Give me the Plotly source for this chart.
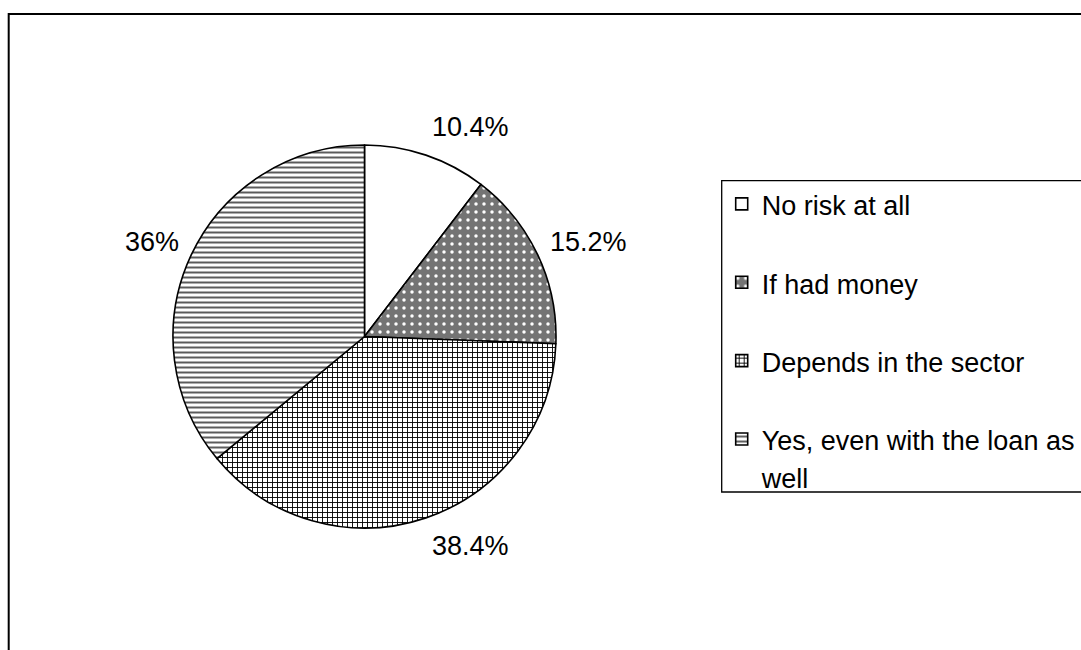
import math
import plotly.graph_objects as go

# ---- data ----
categories = ["No risk at all", "If had money", "Depends in the sector",
              "Yes, even with the loan as well"]
values = [10.4, 15.2, 38.4, 36.0]
value_labels = ["10.4%", "15.2%", "38.4%", "36%"]
legend_lines = [["No risk at all"], ["If had money"], ["Depends in the sector"],
                ["Yes, even with the loan as", "well"]]

# ---- layout constants ----
W, H = 1081, 650
CX, CY, R = 364.5, 336.5, 191.5   # pie centre / radius in px
LABEL_RX, LABEL_RY = 203, 221     # label offsets from centre
FONT = "Arial, 'Liberation Sans', sans-serif"
TXT = 27


def legend_text(lines):
    parts = ['<span style="font-size:%dpx">%s</span>' % (TXT, s) for s in lines]
    if len(parts) == 1:
        parts.append(" ")
    return "<br>".join(parts)


fig = go.Figure()
fig.add_trace(go.Pie(
    labels=[legend_text(l) for l in legend_lines],
    values=values,
    sort=False,
    direction="clockwise",
    rotation=0,
    textinfo="none",
    hoverinfo="skip",
    domain=dict(x=[(CX - R) / W, (CX + R) / W],
                y=[(H - CY - R) / H, (H - CY + R) / H]),
    marker=dict(
        colors=["white", "#747474", "white", "white"],
        line=dict(color="black", width=1.6),
        pattern=dict(
            shape=["", ".", "+", "-"],
            fgcolor=["white", "white", "black", "#5c5c5c"],
            bgcolor=["white", "#747474", "white", "white"],
            size=[8, 8, 5, 5],
            solidity=[0.1, 0.15, 0.33, 0.4],
            fillmode="replace",
        ),
    ),
))

# percentage labels placed outside each slice
total = sum(values)
annotations = []
cum = 0.0
for v, lab in zip(values, value_labels):
    mid = (cum + v / 2) / total * 2 * math.pi
    cum += v
    s, c = math.sin(mid), math.cos(mid)
    xp = CX + LABEL_RX * s
    yp = CY - LABEL_RY * c
    annotations.append(dict(
        x=xp / W, y=1 - yp / H, xref="paper", yref="paper",
        text=lab, showarrow=False,
        xanchor="left" if s > 0 else "right",
        yanchor="middle",
        font=dict(family=FONT, size=TXT, color="black"),
    ))

shapes = [
    # outer chart frame
    dict(type="rect", xref="paper", yref="paper",
         x0=8.7 / W, x1=1.05, y0=-0.05, y1=1 - 14 / H,
         line=dict(color="black", width=2), fillcolor="rgba(0,0,0,0)"),
    # legend frame
    dict(type="rect", xref="paper", yref="paper",
         x0=721.7 / W, x1=1.05, y0=1 - 492 / H, y1=1 - 180.7 / H,
         line=dict(color="black", width=1.3), fillcolor="rgba(0,0,0,0)"),
]

fig.update_layout(
    width=W, height=H,
    margin=dict(l=0, r=0, t=0, b=0),
    paper_bgcolor="white",
    plot_bgcolor="white",
    font=dict(family=FONT, color="black"),
    showlegend=True,
    legend=dict(
        x=721.7 / W, y=1 - 178.5 / H, xanchor="left", yanchor="top",
        font=dict(family=FONT, size=29, color="black"),
        bgcolor="rgba(0,0,0,0)", borderwidth=0,
        valign="top", itemclick=False, itemdoubleclick=False,
    ),
    annotations=annotations,
    shapes=shapes,
)

fig.write_html("out.html", config={"displayModeBar": False},
               post_script="document.body.style.margin='0px';")
